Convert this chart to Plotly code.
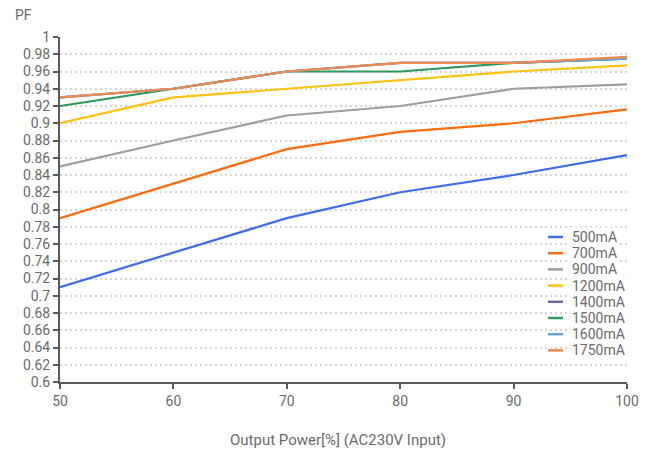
import plotly.graph_objects as go

x_power = [50, 60, 70, 80, 90, 100]

pf_500 = [0.71, 0.75, 0.79, 0.82, 0.84, 0.863]
pf_700 = [0.79, 0.83, 0.87, 0.89, 0.90, 0.916]
pf_900 = [0.85, 0.88, 0.909, 0.92, 0.94, 0.945]
pf_1200 = [0.90, 0.93, 0.94, 0.95, 0.96, 0.967]
pf_1400 = [0.93, 0.94, 0.96, 0.97, 0.97, 0.975]
pf_1500 = [0.92, 0.94, 0.96, 0.96, 0.97, 0.975]
pf_1600 = [0.93, 0.94, 0.96, 0.97, 0.97, 0.975]
pf_1750 = [0.93, 0.94, 0.96, 0.97, 0.97, 0.977]

series_names = ["500mA", "700mA", "900mA", "1200mA", "1400mA", "1500mA", "1600mA", "1750mA"]
series_values = [pf_500, pf_700, pf_900, pf_1200, pf_1400, pf_1500, pf_1600, pf_1750]
series_colors = ["#3d6cf2", "#ff6a0d", "#9e9e9e", "#ffc20e", "#6c6aa6", "#2e9a5e", "#6aa6dc", "#ee8a4c"]

y_ticks = [round(0.6 + 0.02 * i, 2) for i in range(21)]
y_ticktext = [f"{v:g}" for v in y_ticks]
x_ticks = [50, 60, 70, 80, 90, 100]

FONT = "Roboto, 'DejaVu Sans', sans-serif"
TXT = "#6b6b6b"
AX = "#5a5a5a"

W, H = 645, 452
ML, MR, MT, MB = 60, 18, 37, 70
PW, PH = W - ML - MR, H - MT - MB


def px_x(px):
    return (px - ML) / PW


def px_y(py):
    return (H - MB - py) / PH


fig = go.Figure()
for name, vals, col in zip(series_names, series_values, series_colors):
    fig.add_trace(go.Scatter(x=x_power, y=vals, mode="lines", name=name,
                             line=dict(color=col, width=2.2)))

# custom legend (compact rows like the reference)
shapes = []
annotations = []
for i, (name, col) in enumerate(zip(series_names, series_colors)):
    row_y = 237 + 16.2 * i
    shapes.append(dict(type="line", xref="paper", yref="paper",
                       x0=px_x(548), x1=px_x(563), y0=px_y(row_y), y1=px_y(row_y),
                       line=dict(color=col, width=2.5)))
    annotations.append(dict(text=name, xref="paper", yref="paper",
                            x=px_x(570), y=px_y(row_y), xanchor="left", yanchor="middle",
                            showarrow=False, bgcolor="white",
                            font=dict(size=14, color=TXT)))

annotations.append(dict(text="PF", xref="paper", yref="paper", x=px_x(13), y=px_y(15),
                        xanchor="left", yanchor="middle", showarrow=False,
                        font=dict(size=14, color=TXT)))
annotations.append(dict(text="Output Power[%] (AC230V Input)", xref="paper", yref="paper",
                        x=px_x(338), y=px_y(440), xanchor="center", yanchor="middle",
                        showarrow=False, font=dict(size=15, color=TXT)))

fig.update_layout(
    width=W, height=H,
    margin=dict(l=ML, r=MR, t=MT, b=MB, autoexpand=False),
    paper_bgcolor="white", plot_bgcolor="white",
    font=dict(family=FONT, color=TXT, size=14),
    showlegend=False,
    xaxis=dict(range=[50, 100], tickvals=x_ticks, showgrid=False, zeroline=False,
               automargin=False,
               showline=True, linecolor=AX, linewidth=2,
               ticks="outside", ticklen=5, tickcolor=AX, tickwidth=2,
               tickfont=dict(size=14, color=TXT)),
    yaxis=dict(range=[0.6, 1.0], tickvals=y_ticks, ticktext=y_ticktext,
               automargin=False,
               showgrid=True, gridcolor="#d6d6d6", griddash="2px,3px", gridwidth=2,
               zeroline=False, showline=True, linecolor=AX, linewidth=2,
               ticks="outside", ticklen=5, tickcolor=AX, tickwidth=2,
               tickfont=dict(size=14, color=TXT)),
    shapes=shapes,
    annotations=annotations,
)

fig.write_html("out.html")
